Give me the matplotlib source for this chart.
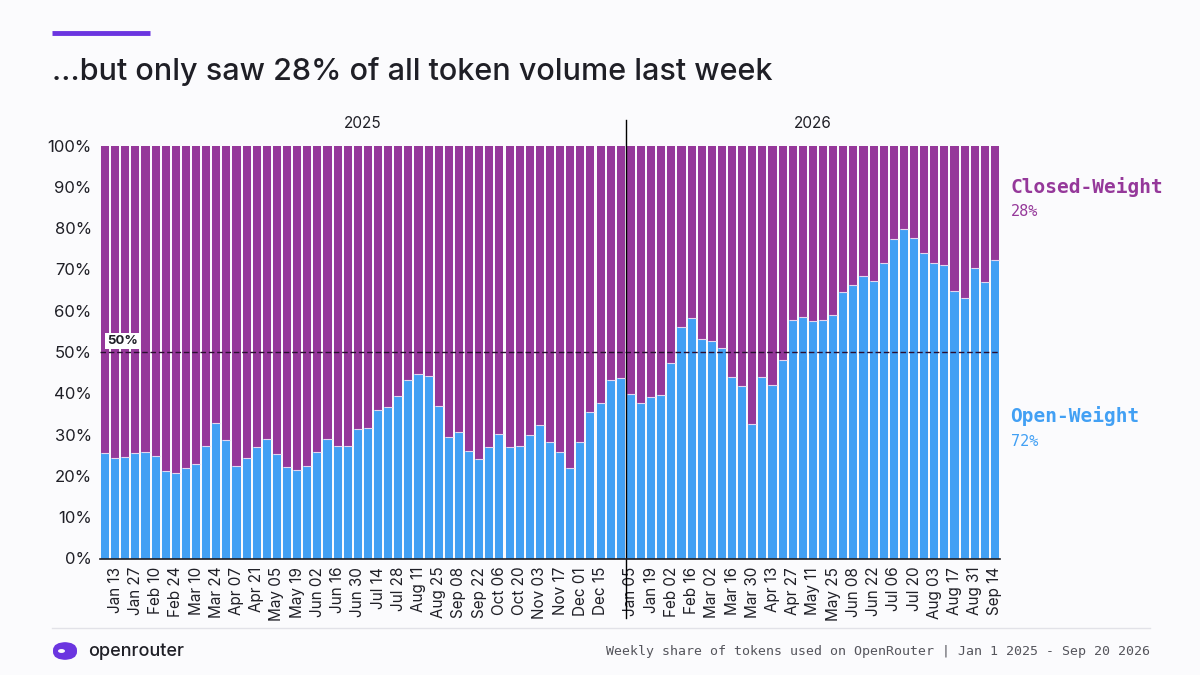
import numpy as np
import pandas as pd
import matplotlib
matplotlib.use("Agg")
import matplotlib.pyplot as plt
from matplotlib.patches import Circle, FancyBboxPatch
from matplotlib.lines import Line2D

# weekly buckets (Monday starts), Jan 6 2025 .. Sep 14 2026
weeks = pd.date_range("2025-01-06", "2026-09-14", freq="W-MON")

# open-weight share of tokens, %
open_weight = [
    25.5, 24.3, 24.6, 25.5, 25.7, 24.9, 21.3, 20.6, 22.0, 22.9,
    27.3, 32.7, 28.6, 22.4, 24.3, 27.1, 28.9, 25.2, 22.1, 21.4,
    22.4, 25.7, 28.9, 27.2, 27.2, 31.3, 31.5, 36.0, 36.8, 39.4,
    43.1, 44.6, 44.3, 36.9, 29.3, 30.7, 26.1, 24.0, 27.1, 30.1,
    27.1, 27.3, 29.9, 32.3, 28.1, 25.7, 22.0, 28.3, 35.5, 37.6,
    43.1, 43.6,
    39.8, 37.7, 39.2, 39.6, 47.4, 56.0, 58.2, 53.1, 52.7, 51.0,
    44.0, 41.8, 32.5, 44.0, 42.0, 48.1, 57.7, 58.5, 57.5, 57.7,
    59.0, 64.6, 66.2, 68.5, 67.3, 71.6, 77.4, 79.8, 77.7, 74.0,
    71.6, 71.1, 64.8, 63.0, 70.4, 67.0, 72.3,
]
closed_weight = [100 - v for v in open_weight]

years = ["2025", "2026"]
title = "\u2026but only saw 28% of all token volume last week"
footer = "Weekly share of tokens used on OpenRouter | Jan 1 2025 - Sep 20 2026"

BG = "#FBFBFD"
BLUE = "#42A0F4"
PURPLE = "#95389A"
INK = "#1F1F26"

plt.rcParams["font.family"] = ["Inter", "DejaVu Sans"]

fig = plt.figure(figsize=(12, 6.75), dpi=100, facecolor=BG)
ax = fig.add_axes([100 / 1200, 1 - 558.5 / 675, 900 / 1200, 413 / 675])
ax.set_facecolor(BG)

x = np.arange(len(weeks))
ax.bar(x, open_weight, width=0.8, color=BLUE, linewidth=0)
ax.bar(x, closed_weight, bottom=open_weight, width=0.8, color=PURPLE, linewidth=0)
# thin light seam where the two stacks meet
ax.hlines(open_weight, x - 0.4, x + 0.4, color="#E6D4EE", lw=0.8)

ax.set_xlim(-0.5, len(weeks) - 0.5)
ax.set_ylim(0, 100)
ax.set_yticks(range(0, 101, 10))
ax.set_yticklabels([f"{v}%" for v in range(0, 101, 10)], fontsize=12, color=INK)

# index where 2026 starts; ticks every 2 weeks, restarting in January
split = int(np.argmax(weeks.year == 2026))
tick_idx = list(range(1, split - 2, 2)) + list(range(split, len(weeks), 2))
ax.set_xticks(tick_idx)
ax.set_xticklabels([weeks[i].strftime("%b %d") for i in tick_idx],
                   rotation=90, fontsize=11, color=INK)
ax.tick_params(length=0, pad=6)

for s in ["top", "right", "left"]:
    ax.spines[s].set_visible(False)
ax.spines["bottom"].set_color(INK)
ax.spines["bottom"].set_linewidth(1.2)

# 50% reference
ax.axhline(50, color="#2A0E30", lw=1, ls=(0, (4, 2)))
ax.text(0.2, 51.2, "50%", fontsize=9.5, fontweight="bold", color=INK,
        va="bottom", ha="left",
        bbox=dict(boxstyle="square,pad=0.15", fc="white", ec="none"))

# year divider and labels
ax.axvline(split - 0.5, ymin=-0.145, ymax=1.062, color="black", lw=1, clip_on=False)
ax.text((split - 1) / 2, 103.5, years[0], ha="center", va="bottom", fontsize=11, color=INK)
ax.text((split + len(weeks) - 1) / 2, 103.5, years[1], ha="center", va="bottom",
        fontsize=11, color=INK)

# right-hand labels
mono = ["DejaVu Sans Mono"]
fig.text(1010 / 1200, 1 - 187 / 675, "Closed-Weight", family=mono, fontsize=14,
         fontweight="bold", color=PURPLE, va="center")
fig.text(1011 / 1200, 1 - 212 / 675, f"{closed_weight[-1]:.0f}%", family=mono,
         fontsize=11, color=PURPLE, va="center")
fig.text(1010 / 1200, 1 - 416 / 675, "Open-Weight", family=mono, fontsize=14,
         fontweight="bold", color=BLUE, va="center")
fig.text(1011 / 1200, 1 - 441 / 675, f"{open_weight[-1]:.0f}%", family=mono,
         fontsize=11, color=BLUE, va="center")

# title and accent
fig.add_artist(Line2D([52 / 1200, 150 / 1200], [1 - 33 / 675] * 2,
                      color="#6B35E0", lw=3.5, solid_capstyle="butt"))
fig.text(52 / 1200, 1 - 72 / 675, title, fontsize=22, fontweight="medium",
         color=INK, va="center", ha="left")

# footer
fig.add_artist(Line2D([52 / 1200, 1150 / 1200], [1 - 628 / 675] * 2,
                      color="#E2E2E8", lw=1))
fig.text(1150 / 1200, 1 - 651 / 675, footer, family=mono, fontsize=9.5,
         color="#55555C", ha="right", va="center")

# logo mark
fig.add_artist(FancyBboxPatch((53 / 1200, 1 - 660 / 675), 24 / 1200, 18 / 675,
                              boxstyle="round,pad=0,rounding_size=0.012",
                              transform=fig.transFigure, fc="#6B35E0", ec="none"))
fig.add_artist(Circle((61.5 / 1200, 1 - 651 / 675), 3.5 / 1200,
                      transform=fig.transFigure, fc=BG, ec="none"))
fig.text(88 / 1200, 1 - 651 / 675, "openrouter", fontsize=13, fontweight="medium",
         color=INK, va="center", ha="left")

fig.savefig("out.png", dpi=100, facecolor=BG)
